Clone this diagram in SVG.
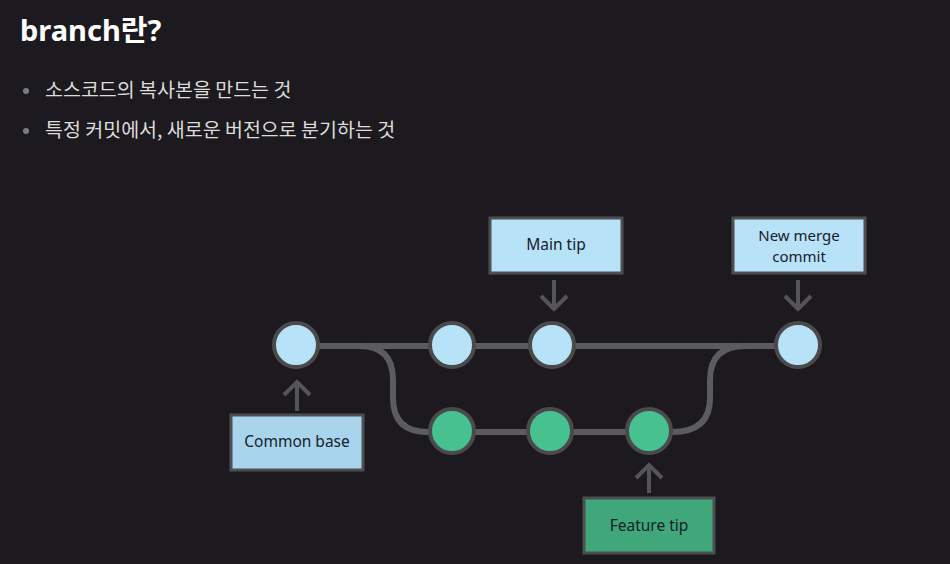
<svg xmlns="http://www.w3.org/2000/svg" width="950" height="564" viewBox="0 0 950 564">
<defs>
<style>
.title{font-family:"Noto Sans","Noto Sans CJK KR",sans-serif;font-weight:bold;font-size:29px;fill:#ffffff}
.bul{font-family:"Noto Sans CJK KR","Noto Sans",sans-serif;font-size:19.5px;fill:#dcdcdc}
.dot{fill:#7a7c8a}
.lbl{font-family:"Noto Sans","Liberation Sans",sans-serif;font-size:15.5px;fill:#15202b;text-anchor:middle}
.sm{font-size:15px}
.box{stroke:#4f4f52;stroke-width:3}
.blue{fill:#b8e2f8}
.cb{fill:#a8d5ec}
.green{fill:#3fa77a}
.cm{stroke:#4a4a4d;stroke-width:4}
.cblue{fill:#b8e2f8}
.cgreen{fill:#46c18f}
.edge{fill:none;stroke:#5c5c60;stroke-width:6}
.arr{fill:none;stroke:#555558;stroke-width:4;stroke-linecap:butt}
</style>
</defs>
<rect width="950" height="564" fill="#1c1a1f"/>
<text class="title" x="20" y="41">branch란?</text>
<circle class="dot" cx="26" cy="91" r="3"/>
<text class="bul" x="45" y="97">소스코드의 복사본을 만드는 것</text>
<circle class="dot" cx="26" cy="131" r="3"/>
<text class="bul" x="45" y="137">특정 커밋에서, 새로운 버전으로 분기하는 것</text>
<g id="connectors">
<path class="edge" d="M296 346 L798 346"/>
<path class="edge" d="M360 346 Q393 346 393 380 L393 398 Q393 432 428 432 L672 432"/>
<path class="edge" d="M672 432 Q710 432 710 398 L710 380 Q710 346 745 346"/>
<path class="arr" d="M554 280 L554 309 M541 296 L554 309 L567 296"/>
<path class="arr" d="M798 280 L798 309 M785 296 L798 309 L811 296"/>
<path class="arr" d="M297 411 L297 382 M284 395 L297 382 L310 395"/>
<path class="arr" d="M649 493 L649 465 M636 478 L649 465 L662 478"/>
</g>
<g id="c1"><circle class="cm cblue" cx="296" cy="345" r="22"/></g>
<g id="c2"><circle class="cm cblue" cx="452" cy="345" r="22"/></g>
<g id="c3"><circle class="cm cblue" cx="552" cy="345" r="22"/></g>
<g id="c4"><circle class="cm cblue" cx="798" cy="345" r="22"/></g>
<g id="g1"><circle class="cm cgreen" cx="452" cy="431" r="22"/></g>
<g id="g2"><circle class="cm cgreen" cx="550" cy="431" r="22"/></g>
<g id="g3"><circle class="cm cgreen" cx="649" cy="431" r="22"/></g>
<g id="maintip"><rect class="box blue" x="490" y="218" width="132" height="55"/><text class="lbl" x="556" y="250">Main tip</text></g>
<g id="merge"><rect class="box blue" x="733" y="218" width="132" height="55"/><text class="lbl sm" x="799" y="241">New merge</text><text class="lbl sm" x="799" y="262">commit</text></g>
<g id="common"><rect class="box cb" x="231" y="415" width="132" height="55"/><text class="lbl" x="297" y="447">Common base</text></g>
<g id="feature"><rect class="box green" x="584" y="498" width="130" height="55"/><text class="lbl" x="649" y="531">Feature tip</text></g>
</svg>
